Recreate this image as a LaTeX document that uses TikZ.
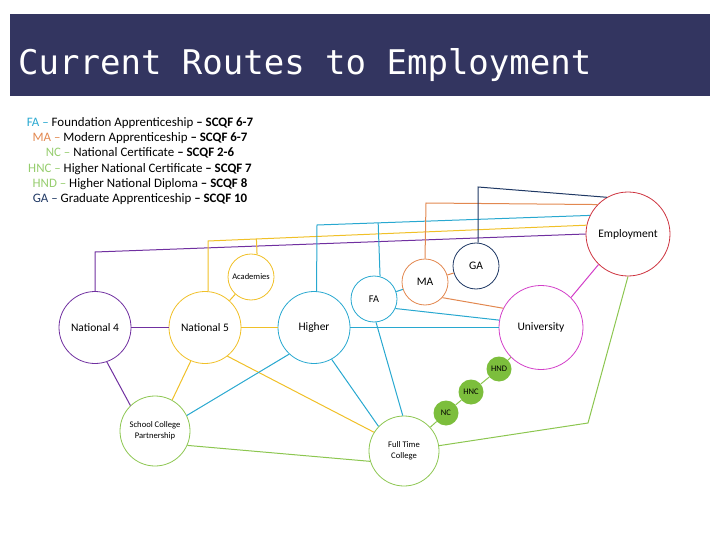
\documentclass[tikz,border=0pt]{standalone}
\usepackage{fontspec}
\setmainfont{Carlito}
\newfontfamily\titlefont{DejaVu Sans Mono}
\usetikzlibrary{calc}
\definecolor{barblue}{RGB}{51,53,96}
\definecolor{nfour}{RGB}{112,48,160}
\definecolor{nfive}{RGB}{240,192,40}
\definecolor{facyan}{RGB}{40,168,208}
\definecolor{maorange}{RGB}{226,136,80}
\definecolor{ganavy}{RGB}{31,56,100}
\definecolor{empred}{RGB}{205,50,62}
\definecolor{unimag}{RGB}{210,62,200}
\definecolor{collgreen}{RGB}{140,198,80}
\definecolor{qualgreen}{RGB}{124,190,60}
\definecolor{palegreen}{RGB}{150,205,110}
\begin{document}
\begin{tikzpicture}[x=1pt,y=-1pt,
		stage/.style={circle,draw,line width=0.8pt,inner sep=0pt,align=center,font=\fontsize{11.5}{12}\selectfont},
		small/.style={stage,font=\fontsize{8.6}{11}\selectfont},
		qual/.style={circle,fill=qualgreen,inner sep=0pt,minimum size=25pt,font=\fontsize{8.5}{9}\selectfont},
		link/.style={line width=1pt}]
	\useasboundingbox (0,0) rectangle (720,540);
	\fill[barblue] (10,14) rectangle (710,96);
	\node[anchor=base west,inner sep=0pt,text=white,font=\titlefont\fontsize{34}{40}\selectfont] (title) at (18,75) {Current Routes to Employment};

	% key
	\node[align=center,inner sep=0pt,font=\fontsize{12.9}{15.2}\selectfont] (key) at (140,161)
		{\textcolor{facyan}{FA –} Foundation Apprenticeship \textbf{– SCQF 6-7}\\
		\textcolor{maorange}{MA –} Modern Apprenticeship \textbf{– SCQF 6-7}\\
		\textcolor{palegreen}{NC –} National Certificate \textbf{– SCQF 2-6}\\
		\textcolor{palegreen}{HNC –} Higher National Certificate \textbf{– SCQF 7}\\
		\textcolor{palegreen}{HND –} Higher National Diploma \textbf{– SCQF 8}\\
		\textcolor{ganavy}{GA –} Graduate Apprenticeship \textbf{– SCQF 10}};

	% stages
	\node[stage,nfour,minimum size=72pt,text=black] (nat4) at (95,327.5) {National 4};
	\node[stage,nfive,minimum size=72pt,text=black] (nat5) at (205,327.5) {National 5};
	\node[stage,facyan,minimum size=72pt,text=black] (higher) at (314,327.5) {Higher};
	\node[small,nfive,minimum size=46pt,text=black,font=\fontsize{8.5}{10}\selectfont] (acad) at (251,277) {Academies};
	\node[stage,facyan,minimum size=46pt,text=black,font=\fontsize{10.3}{12}\selectfont] (fa) at (374,299) {FA};
	\node[stage,maorange,minimum size=46pt,text=black] (ma) at (425,282) {MA};
	\node[stage,ganavy,minimum size=46pt,text=black] (ga) at (476,266) {GA};
	\node[stage,empred,minimum size=84pt,text=black] (emp) at (628,234) {Employment};
	\node[stage,unimag,minimum size=84pt,text=black] (uni) at (541,327.5) {University};
	\node[small,collgreen,minimum size=70pt,text=black] (scp) at (155,431) {School College\\Partnership};
	\node[small,collgreen,minimum size=70pt,text=black] (ftc) at (404,451) {Full Time\\College};
	\node[qual] (hnd) at (499,369) {HND};
	\node[qual] (hnc) at (471,392) {HNC};
	\node[qual] (nc) at (446,413) {NC};

	% routes up to employment
	\coordinate (up4) at (95,252);
	\coordinate (up5) at (208,241);
	\coordinate (uphi) at (317,225);
	\coordinate (upma) at (426,203);
	\coordinate (upga) at (478,187);
	\coordinate (bend) at (588,423);
	\draw[link,nfour] (nat4.north) -- (up4) -- (emp.180);
	\draw[link,nfive] (nat5.85) -- (up5) -- (emp.168);
	\draw[link,nfive] (acad.75) -- ($(up5)!(acad.75)!(emp.168)$);
	\draw[link,facyan] (higher.86) -- (uphi) -- (emp.154);
	\draw[link,facyan] (fa.75) -- ($(uphi)!(fa.75)!(emp.154)$);
	\draw[link,maorange] (ma.north) -- (upma) -- (emp.136);
	\draw[link,ganavy] (ga.85) -- (upga) -- (emp.120);
	\draw[link,collgreen] (ftc) -- (bend) -- (emp.270);
	\draw[link,unimag] (uni.45) -- (emp.226);

	% links between stages
	\draw[link,nfour] (nat4.east) -- (nat5.west);
	\draw[link,nfour] (nat4.-71) -- (scp.134);
	\draw[link,nfive] (nat5.east) -- (higher.west);
	\draw[link,nfive] (nat5) -- (acad);
	\draw[link,nfive] (nat5.-113) -- (scp.61);
	\draw[link,nfive] (nat5.-52) -- (ftc.148);
	\draw[link,facyan] (higher.-133) -- (scp.26);
	\draw[link,facyan] (higher.-61) -- (ftc.136);
	\draw[line width=1.6pt,facyan] (higher.east) -- (uni.west);
	\draw[link,facyan] (fa) -- (ma);
	\draw[link,facyan] (fa.-24) -- (uni.170);
	\draw[link,facyan] (fa.-85) -- (ftc.92);
	\draw[link,maorange] (ma) -- (ga);
	\draw[link,maorange] (ma.-42) -- (uni.153);
	\draw[link,collgreen] (uni) -- (hnd) -- (hnc) -- (nc) -- (ftc);
	\draw[link,collgreen] (scp.-24) -- (ftc.197);
\end{tikzpicture}
\end{document}
